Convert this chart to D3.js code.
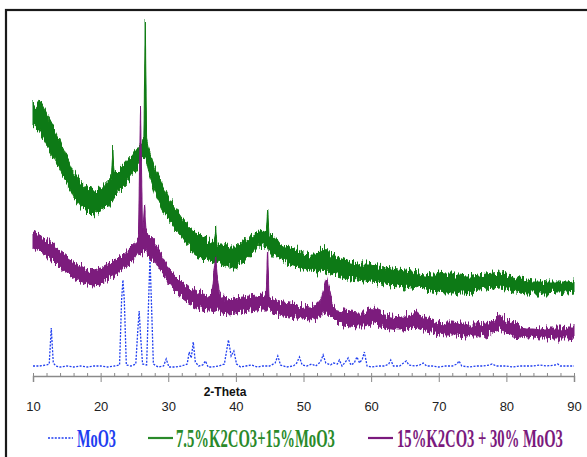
<!DOCTYPE html>
<html>
<head>
<meta charset="utf-8">
<script src="https://cdn.jsdelivr.net/npm/d3@7"></script>
<style>
  html, body { margin: 0; padding: 0; background: #fff; }
  svg { display: block; }
</style>
</head>
<body>
<svg id="chart" width="587" height="457"></svg>
<script>
// 2-theta ticks
const majorTicks = [10, 20, 30, 40, 50, 60, 70, 80, 90];
const minorTicks = d3.range(10, 91, 2);

// series names (legend)
const seriesNames = ["MoO3", "7.5%K2CO3+15%MoO3", "15%K2CO3 + 30% MoO3"];

// MoO3 pattern (dotted), intensity a.u.
const moo3Theta = [10, 11, 12, 12.4, 12.7, 13.0, 13.4, 14, 15, 16, 17, 18, 19, 20, 21, 22, 22.8, 23.1, 23.3, 23.5, 23.8, 24.5, 25.2, 25.5, 25.7, 25.9, 26.2, 26.8, 27.1, 27.3, 27.5, 27.8, 28.5, 29.3, 29.7, 30.1, 31, 32, 32.8, 33.1, 33.4, 33.7, 34.0, 34.5, 35.1, 35.5, 35.9, 36.5, 37.5, 38.3, 38.6, 38.9, 39.3, 39.7, 40.1, 40.7, 41.5, 42.3, 43.2, 44, 45, 45.8, 46.2, 46.6, 47.5, 48.5, 49.0, 49.4, 49.8, 50.5, 51.2, 51.8, 52.5, 52.9, 53.3, 54, 54.4, 55.0, 55.3, 55.7, 56.2, 56.6, 57.0, 57.5, 57.9, 58.3, 58.7, 59.0, 59.4, 60, 61, 62, 62.6, 62.9, 63.3, 64.2, 64.8, 65.2, 65.6, 66.5, 67.2, 67.7, 68.2, 69, 70, 71, 72, 72.7, 73.0, 73.4, 74.5, 75.5, 76.5, 77.5, 77.9, 78.5, 80, 81, 82, 83, 84, 85, 86, 87.2, 87.6, 88, 89, 90];
const moo3Counts = [10, 10, 11, 12, 48, 13, 10, 9, 10, 9, 10, 9, 10, 10, 9, 10, 11, 76, 96, 76, 11, 10, 12, 46, 65, 41, 12, 11, 76, 118, 76, 12, 9, 10, 17, 9, 9, 10, 12, 24, 18, 34, 14, 10, 11, 15, 9, 9, 10, 12, 24, 36, 20, 25, 12, 9, 10, 11, 9, 10, 10, 13, 20, 11, 9, 10, 13, 19, 11, 10, 12, 10, 14, 21, 13, 11, 13, 12, 16, 10, 14, 18, 11, 13, 19, 13, 17, 24, 10, 9, 10, 10, 12, 16, 10, 10, 13, 15, 11, 10, 11, 13, 10, 10, 9, 10, 10, 12, 15, 10, 9, 10, 10, 11, 12, 10, 10, 9, 10, 10, 10, 11, 10, 11, 12, 10, 10, 10];

// 7.5%K2CO3+15%MoO3 : noise band (low / high envelope)
const kc1Theta = [10, 10.4, 11, 12, 13, 14, 15, 16, 17, 18, 19, 20, 21, 21.6, 21.8, 22.0, 23, 24, 25, 26, 26.4, 26.6, 26.8, 27, 28, 29, 30, 31, 32, 33, 34, 35, 36, 36.8, 37.0, 37.2, 38, 39, 40, 41, 42, 43, 44, 44.5, 44.7, 44.9, 45, 46, 47, 48, 49, 50, 51, 52, 53, 54, 55, 56, 57, 58, 59, 60, 61, 62, 63, 64, 65, 66, 67, 68, 69, 70, 71, 72, 73, 74, 75, 76, 77, 78, 79, 80, 81, 82, 83, 84, 85, 86, 87, 88, 89, 90];
const kc1High = [274, 270, 276, 262, 249, 234, 219, 204, 194, 189, 186, 187, 194, 198, 227, 202, 209, 216, 224, 234, 238, 356, 236, 229, 209, 194, 179, 169, 159, 149, 144, 139, 136, 134, 148, 132, 132, 129, 129, 134, 139, 144, 146, 144, 167, 142, 142, 136, 132, 129, 126, 124, 122, 122, 129, 122, 119, 116, 114, 112, 112, 112, 110, 109, 108, 107, 106, 105, 104, 103, 102, 102, 101, 101, 101, 100, 100, 101, 102, 103, 104, 102, 99, 97, 96, 95, 95, 94, 94, 94, 94, 95];
const kc1Low = [251, 248, 244, 231, 219, 207, 194, 179, 169, 164, 161, 164, 169, 173, 175, 179, 187, 194, 204, 214, 217, 218, 215, 207, 184, 169, 157, 147, 139, 129, 121, 119, 116, 115, 116, 114, 111, 109, 109, 114, 119, 127, 129, 129, 129, 125, 124, 117, 113, 111, 109, 107, 105, 104, 106, 102, 100, 98, 96, 95, 94, 95, 94, 92, 91, 90, 89, 88, 87, 86, 85, 84, 83, 83, 83, 83, 84, 85, 86, 87, 88, 87, 85, 83, 82, 82, 82, 82, 83, 83, 83, 84];

// 15%K2CO3 + 30% MoO3 : noise band (low / high envelope)
const kc2Theta = [10, 11, 12, 13, 14, 15, 16, 17, 18, 19, 20, 21, 22, 23, 24, 25, 25.6, 25.9, 26.2, 26.5, 26.7, 27, 28, 29, 30, 31, 32, 33, 34, 35, 36, 36.5, 37.0, 37.5, 38, 39, 40, 41, 42, 43, 44, 44.5, 44.7, 44.9, 45, 46, 47, 48, 49, 50, 51, 52, 52.6, 53.4, 54.2, 55, 56, 57, 58, 59, 60, 60.5, 61, 62, 63, 64, 65, 66, 66.8, 67.5, 68, 69, 70, 71, 72, 73, 74, 75, 76, 77, 78, 79, 80, 81, 82, 83, 84, 85, 86, 87, 88, 89, 90];
const kc2High = [144, 141, 136, 131, 124, 119, 114, 110, 107, 106, 108, 112, 116, 120, 126, 132, 139, 269, 142, 171, 146, 141, 134, 122, 109, 101, 94, 89, 86, 82, 81, 84, 121, 84, 78, 77, 78, 79, 80, 81, 82, 84, 126, 80, 78, 76, 74, 73, 71, 70, 69, 71, 76, 99, 74, 66, 65, 64, 63, 63, 66, 69, 64, 61, 60, 59, 59, 61, 64, 60, 58, 56, 54, 53, 53, 52, 52, 52, 52, 53, 56, 61, 56, 52, 50, 49, 49, 48, 48, 48, 48, 49, 49];
const kc2Low = [128, 125, 120, 115, 108, 103, 98, 94, 91, 90, 92, 96, 100, 105, 110, 116, 123, 124, 123, 126, 126, 121, 115, 103, 93, 85, 78, 73, 70, 66, 65, 65, 66, 64, 63, 62, 63, 64, 65, 66, 67, 67, 67, 65, 64, 62, 60, 59, 58, 57, 56, 58, 60, 64, 58, 53, 52, 51, 50, 50, 52, 53, 51, 48, 47, 46, 46, 48, 49, 47, 45, 44, 42, 41, 41, 41, 40, 40, 40, 41, 44, 46, 43, 40, 39, 38, 38, 37, 37, 38, 38, 38, 39];

const colors = { moo3: "#1f3ef0", kc1: "#0b7a12", kc2: "#7b1a7d" };

const svg = d3.select("#chart");

// jitter filter for the noisy scan look (only moves pixels vertically)
const defs = svg.append("defs");
const rough = defs.append("filter")
    .attr("id", "rough")
    .attr("filterUnits", "userSpaceOnUse")
    .attr("x", 0).attr("y", 0).attr("width", 587).attr("height", 457);
rough.append("feTurbulence")
    .attr("type", "fractalNoise")
    .attr("baseFrequency", "0.65 0.06")
    .attr("numOctaves", 2)
    .attr("seed", 3)
    .attr("result", "noise");
rough.append("feColorMatrix")
    .attr("in", "noise")
    .attr("type", "matrix")
    .attr("values", "0 0 0 0 0.5  0 1 0 0 0  0 0 1 0 0  0 0 0 0 1")
    .attr("result", "ynoise");
rough.append("feDisplacementMap")
    .attr("in", "SourceGraphic")
    .attr("in2", "ynoise")
    .attr("scale", 15)
    .attr("xChannelSelector", "R")
    .attr("yChannelSelector", "G");

// outer frame
svg.append("rect")
    .attr("x", 6).attr("y", 10)
    .attr("width", 620).attr("height", 500)
    .attr("fill", "#fff")
    .attr("stroke", "#1a1a1a")
    .attr("stroke-width", 2.2);

const x = d3.scaleLinear().domain([10, 90]).range([33, 574]);
const y = d3.scaleLinear().domain([0, 356]).range([376, 20]);

const bandData = (t, lo, hi) => t.map((d, i) => ({ t: d, lo: lo[i], hi: hi[i] }));

const area = d3.area()
    .x(d => x(d.t))
    .y0(d => y(d.lo))
    .y1(d => y(d.hi));

// MoO3 dotted
const moo3 = moo3Theta.map((d, i) => ({ t: d, v: moo3Counts[i] }));
svg.append("path")
    .datum(moo3)
    .attr("fill", "none")
    .attr("stroke", colors.moo3)
    .attr("stroke-width", 1.3)
    .attr("stroke-dasharray", "2,1.4")
    .attr("d", d3.line().x(d => x(d.t)).y(d => y(d.v)));

// green and purple bands
[[bandData(kc1Theta, kc1Low, kc1High), colors.kc1],
 [bandData(kc2Theta, kc2Low, kc2High), colors.kc2]].forEach(([data, c]) => {
    svg.append("path")
        .datum(data)
        .attr("fill", c)
        .attr("stroke", c)
        .attr("stroke-width", 1)
        .attr("stroke-linejoin", "round")
        .attr("filter", "url(#rough)")
        .attr("d", area);
});

// x axis
const gx = svg.append("g").attr("transform", "translate(0,376)");
gx.call(d3.axisBottom(x).tickValues(majorTicks).tickSize(6).tickPadding(20).tickFormat(d3.format("d")));
gx.call(g => g.select(".domain").attr("stroke", "#8a8a8a").attr("stroke-width", 1.5));
gx.selectAll(".tick line").attr("stroke", "#8a8a8a");
gx.selectAll(".tick text")
    .attr("fill", "#222")
    .style("font-family", "'Liberation Sans Narrow', 'Liberation Sans', Arial, sans-serif")
    .style("font-size", "13px");

const gm = svg.append("g").attr("transform", "translate(0,376)");
gm.call(d3.axisBottom(x).tickValues(minorTicks).tickSize(-3).tickFormat(""));
gm.select(".domain").remove();
gm.selectAll(".tick line").attr("stroke", "#8a8a8a");

svg.append("text")
    .attr("x", 225).attr("y", 396)
    .attr("text-anchor", "middle")
    .style("font-family", "'Liberation Sans', Arial, sans-serif")
    .style("font-size", "12px")
    .style("font-weight", "bold")
    .attr("fill", "#111")
    .text("2-Theta");

// legend
const legend = [
    { name: seriesNames[0], color: colors.moo3, dash: "2,1.4", x0: 48, tx: 77, w: 39 },
    { name: seriesNames[1], color: "#2a8a2a", dash: null, x0: 148, tx: 176, w: 159 },
    { name: seriesNames[2], color: colors.kc2, dash: null, x0: 368, tx: 397, w: 166 }
];
const lg = svg.append("g");
legend.forEach(d => {
    lg.append("line")
        .attr("x1", d.x0).attr("x2", d.x0 + 25)
        .attr("y1", 438).attr("y2", 438)
        .attr("stroke", d.color)
        .attr("stroke-width", d.dash ? 1.4 : 2.2)
        .attr("stroke-dasharray", d.dash);
    const t = lg.append("text")
        .attr("x", 0).attr("y", 0)
        .style("font-family", "'Liberation Serif', 'Times New Roman', serif")
        .style("font-size", "25px")
        .style("font-weight", "bold")
        .attr("fill", d.color)
        .text(d.name);
    const k = d.w / t.node().getComputedTextLength();
    t.attr("transform", `translate(${d.tx},447) scale(${k},1)`);
});
</script>
</body>
</html>
